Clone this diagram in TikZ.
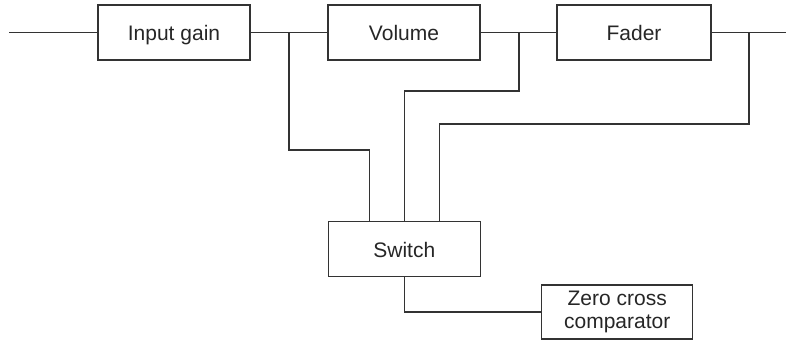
\documentclass[tikz,border=0pt]{standalone}
\usepackage{fontspec}
\setmainfont{Liberation Sans}
\begin{document}
\begin{tikzpicture}[x=1pt,y=-1pt,
  ink/.style={draw=black!80, line width=1.1pt},
  blk/.style={ink, rectangle, minimum width=152pt, minimum height=55pt, inner sep=0pt,
    text=black!85, font=\fontsize{21}{22.5}\selectfont, align=center},
  one/.style={text height=16.4pt, text depth=0pt},
  wire/.style={ink}]
\useasboundingbox (0,0) rectangle (786,340);
\node[blk, one] (ig) at (174,32.5) {Input gain};
\node[blk, one] (vol) at (404,32.5) {Volume};
\node[blk, one, minimum width=154pt] (fad) at (634,32.5) {Fader};
\node[blk, one] (sw) at (404.3,249.2) {Switch};
\node[blk, minimum width=151pt, minimum height=54pt] (zc) at (617.2,312) {Zero cross\\comparator};
\coordinate (in) at (9,32.5);
\coordinate (out) at (786,32.5);
\coordinate (j1) at (289,32.5);
\coordinate (j2) at (519,32.5);
\coordinate (j3) at (749,32.5);
\coordinate (k1) at (369.3,150);
\coordinate (k2) at (404.3,91);
\coordinate (k3) at (439.3,124);
\draw[wire] (in) -- (ig);
\draw[wire] (ig) -- (vol);
\draw[wire] (vol) -- (fad);
\draw[wire] (fad) -- (out);
\draw[wire] (j1) |- (k1) -- (k1 |- sw.north);
\draw[wire] (j2) |- (k2) -- (k2 |- sw.north);
\draw[wire] (j3) |- (k3) -- (k3 |- sw.north);
\draw[wire] (sw.south) |- (zc.west);
\end{tikzpicture}
\end{document}
